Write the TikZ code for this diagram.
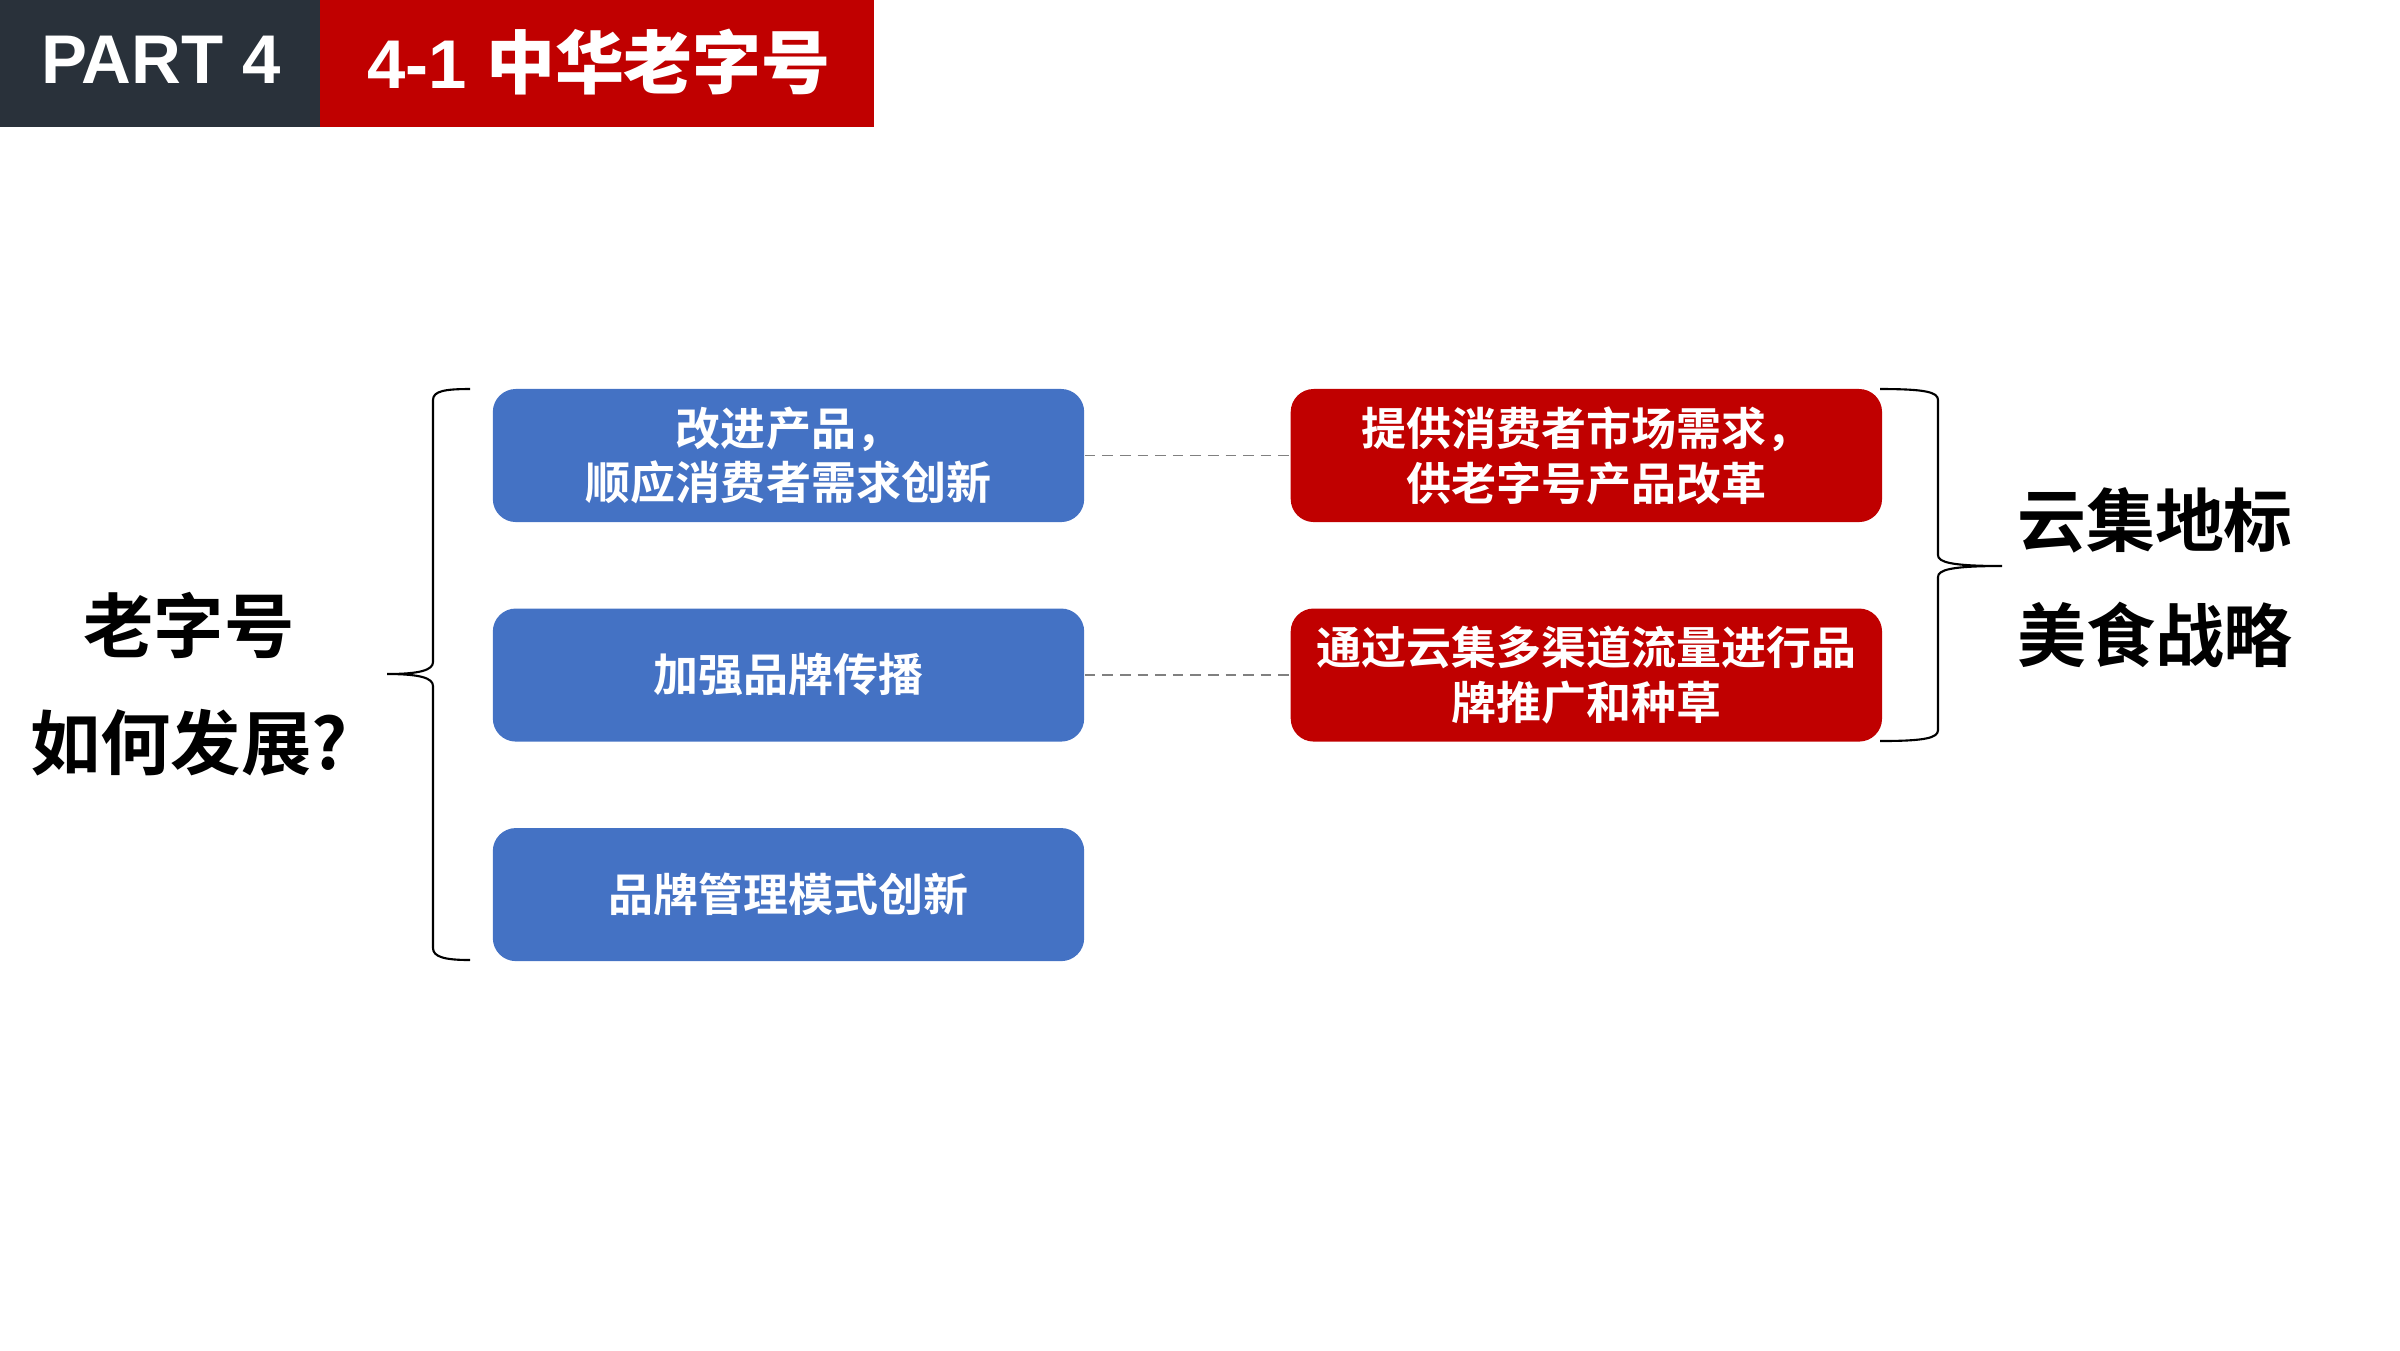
\documentclass[tikz,border=0pt]{standalone}
\usepackage{fontspec}
\setmainfont{Liberation Sans}
\newfontfamily\cjkb{Noto Sans CJK SC Bold}
\usetikzlibrary{positioning}
\definecolor{hdrdark}{RGB}{41,49,58}
\definecolor{hdrred}{RGB}{192,0,0}
\definecolor{boxblue}{RGB}{68,114,196}
\definecolor{boxred}{RGB}{192,0,0}

\begin{document}
\begin{tikzpicture}[x=0.01cm, y=-0.01cm,
  card/.style={rounded corners=0.23cm, minimum width=5.91cm, minimum height=1.33cm,
    text=white, align=center, inner sep=0pt, font=\cjkb\fontsize{12.8}{15.6}\selectfont},
  bluebox/.style={card, fill=boxblue},
  redbox/.style={card, fill=boxred},
  link/.style={densely dashed, gray, line width=0.4pt},
  curly/.style={line width=0.6pt, black},
  headtext/.style={text=white, font=\bfseries\fontsize{19.6}{22}\selectfont}]
\useasboundingbox (0,0) rectangle (2400,1350);

% Header bar
\fill[hdrdark] (0,0) rectangle (320,127);
\fill[hdrred] (320,0) rectangle (874,127);
\node[headtext] (part) at (161,60) {PART 4};
\node[headtext] (title) at (599,62) {4-1 {\cjkb 中华老字号}};

% Question on the left
\node[align=center, font=\cjkb\fontsize{20}{33.4}\selectfont] (ask) at (189,684) {老字号\\如何发展?};

% Blue boxes
\node[bluebox] (b1) at (788.5,455.5) {改进产品，\\顺应消费者需求创新};
\node[bluebox, below=0.85cm of b1] (b2) {加强品牌传播};
\node[bluebox, below=0.85cm of b2] (b3) {品牌管理模式创新};

% Red boxes
\node[redbox, right=2.05cm of b1] (r1) {提供消费者市场需求，\\供老字号产品改革};
\node[redbox, right=2.05cm of b2] (r2) {通过云集多渠道流量进行品\\牌推广和种草};

% Dotted links
\draw[link] (b1.east) -- (r1.west);
\draw[link] (b2.east) -- (r2.west);

% Left brace
\draw[curly] (470,389) .. controls (445,389) and (433,391) .. (433,400) -- (433,662)
  .. controls (433,670) and (420,674) .. (387,674)
  .. controls (420,674) and (433,678) .. (433,686) -- (433,948)
  .. controls (433,957) and (445,960) .. (470,960);

% Right brace
\draw[curly] (1880,389) .. controls (1925,389) and (1938,392) .. (1938,400) -- (1938,555)
  .. controls (1938,562) and (1950,566) .. (2002,566)
  .. controls (1950,566) and (1938,570) .. (1938,577) -- (1938,730)
  .. controls (1938,738) and (1925,741) .. (1880,741);

% Strategy on the right
\node[align=center, font=\cjkb\fontsize{19.6}{32.7}\selectfont] (goal) at (2155,578) {云集地标\\美食战略};
\end{tikzpicture}
\end{document}
